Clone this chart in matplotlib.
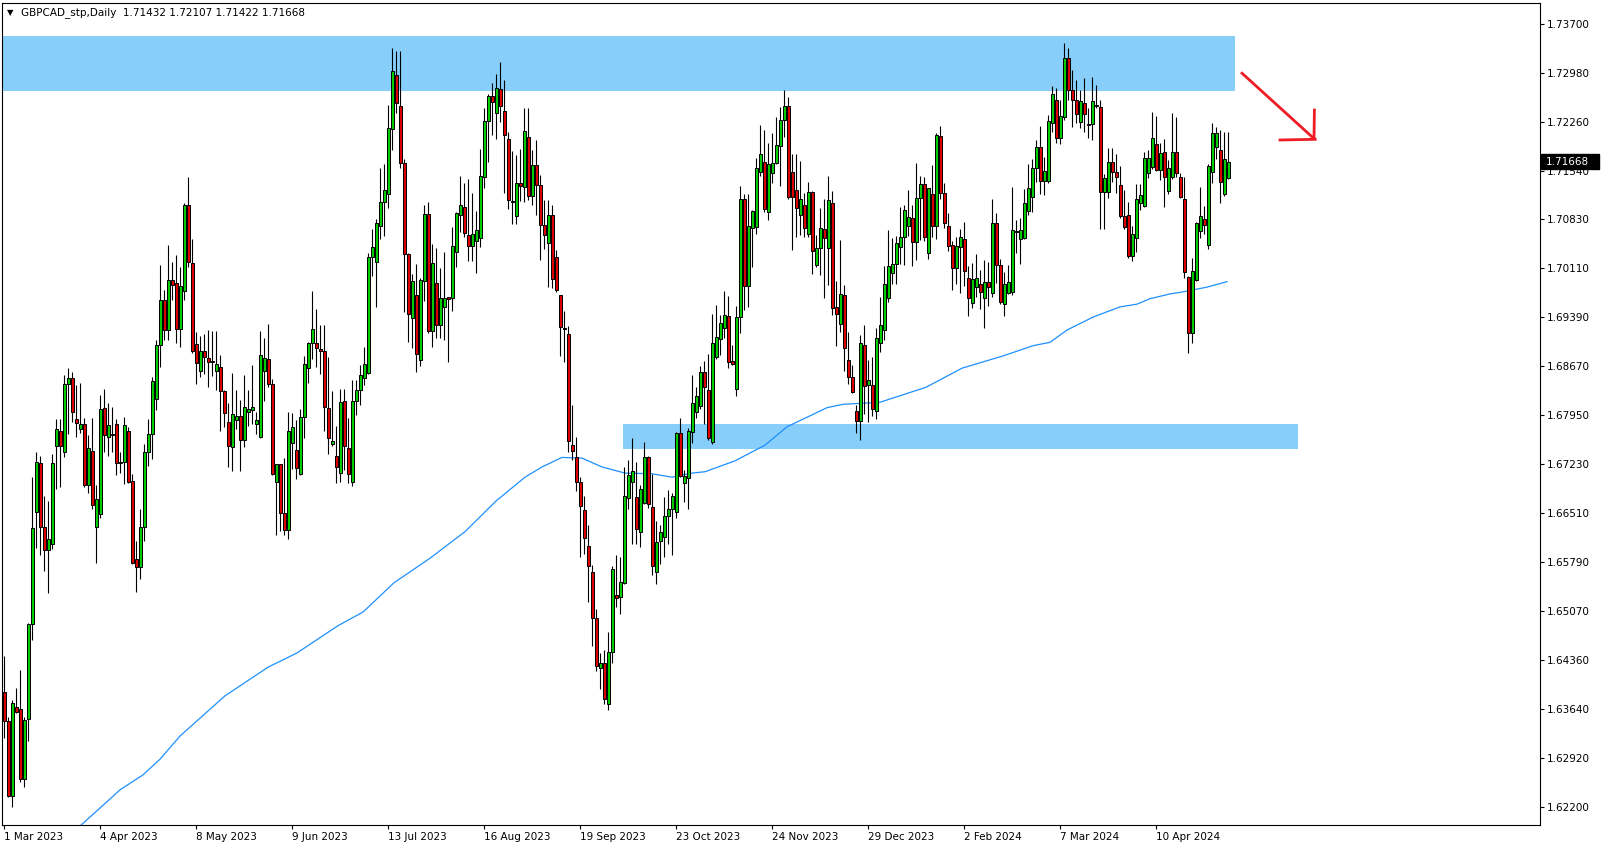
import numpy as np
import matplotlib
matplotlib.use('Agg')
import matplotlib.pyplot as plt
import matplotlib.transforms as mtransforms
from matplotlib.patches import Rectangle

# GBPCAD daily candles, 1 Mar 2023 .. early May 2024
opens = [
    1.6389, 1.6346, 1.6236, 1.6367, 1.6364, 1.6261, 1.6349, 1.6488, 1.6653, 1.6725,
    1.6631, 1.6597, 1.6606, 1.6750, 1.6772, 1.6741, 1.6841, 1.6850, 1.6789, 1.6775,
    1.6782, 1.6693, 1.6742, 1.6631, 1.6650, 1.6806, 1.6763, 1.6767, 1.6782, 1.6727,
    1.6726, 1.6772, 1.6698, 1.6584, 1.6572, 1.6631, 1.6741, 1.6767, 1.6819, 1.6898,
    1.6964, 1.6920, 1.6993, 1.6989, 1.6922, 1.6977, 1.7104, 1.7018, 1.6899, 1.6860,
    1.6889, 1.6879, 1.6874, 1.6860, 1.6866, 1.6831, 1.6785, 1.6748, 1.6788, 1.6794,
    1.6759, 1.6800, 1.6803, 1.6782, 1.6763, 1.6860, 1.6877, 1.6841, 1.6697, 1.6723,
    1.6651, 1.6626, 1.6754, 1.6744, 1.6709, 1.6793, 1.6864, 1.6901, 1.6901, 1.6892,
    1.6889, 1.6806, 1.6753, 1.6735, 1.6710, 1.6816, 1.6747, 1.6697, 1.6816, 1.6832,
    1.6850, 1.6857, 1.7027, 1.7020, 1.7073, 1.7108, 1.7120, 1.7215, 1.7294, 1.7249,
    1.7165, 1.7032, 1.6938, 1.6971, 1.6876, 1.6992, 1.7090, 1.6919, 1.6989, 1.6927,
    1.6954, 1.6968, 1.6967, 1.7035, 1.7089, 1.7101, 1.7059, 1.7043, 1.7051, 1.7055,
    1.7145, 1.7227, 1.7264, 1.7239, 1.7274, 1.7242, 1.7200, 1.7110, 1.7087, 1.7136,
    1.7130, 1.7203, 1.7117, 1.7162, 1.7133, 1.7074, 1.7048, 1.7089, 1.7027, 1.6971,
    1.6923, 1.6914, 1.6751, 1.6734, 1.6697, 1.6656, 1.6603, 1.6565, 1.6497, 1.6424,
    1.6431, 1.6371, 1.6447, 1.6531, 1.6528, 1.6549, 1.6673, 1.6697, 1.6675, 1.6624,
    1.6666, 1.6734, 1.6660, 1.6565, 1.6610, 1.6616, 1.6647, 1.6657, 1.6653, 1.6769,
    1.6696, 1.6703, 1.6770, 1.6800, 1.6809, 1.6858, 1.6832, 1.6756, 1.6880, 1.6907,
    1.6923, 1.6941, 1.6874, 1.6833, 1.6939, 1.7112, 1.6985, 1.7070, 1.7072, 1.7152,
    1.7167, 1.7093, 1.7151, 1.7165, 1.7190, 1.7228, 1.7249, 1.7152, 1.7126, 1.7089,
    1.7104, 1.7061, 1.7123, 1.7015, 1.7041, 1.7068, 1.7041, 1.7107, 1.6954, 1.6929,
    1.6971, 1.6876, 1.6851, 1.6801, 1.6787, 1.6898, 1.6839, 1.6839, 1.6801, 1.6901,
    1.6920, 1.6967, 1.7004, 1.7017, 1.7042, 1.7057, 1.7073, 1.7085, 1.7049, 1.7114,
    1.7134, 1.7033, 1.7120, 1.7073, 1.7205, 1.7121, 1.7073, 1.7045, 1.7011, 1.7042,
    1.7054, 1.6996, 1.6960, 1.6983, 1.6988, 1.6967, 1.6991, 1.6974, 1.7077, 1.7015,
    1.6958, 1.6974, 1.6976, 1.7065, 1.7054, 1.7055, 1.7095, 1.7115, 1.7158, 1.7189,
    1.7139, 1.7139, 1.7224, 1.7258, 1.7202, 1.7233, 1.7319, 1.7272, 1.7258, 1.7225,
    1.7253, 1.7223, 1.7223, 1.7250, 1.7248, 1.7123, 1.7123, 1.7167, 1.7152, 1.7133,
    1.7088, 1.7089, 1.7029, 1.7055, 1.7107, 1.7102, 1.7151, 1.7159, 1.7193, 1.7155,
    1.7181, 1.7124, 1.7145, 1.7181, 1.7145, 1.7112, 1.6998, 1.6916, 1.6993, 1.7066,
    1.7083, 1.7045, 1.7152, 1.7189, 1.7184, 1.7120, 1.71432,
]
highs = [
    1.6442, 1.6352, 1.6377, 1.6395, 1.6421, 1.6352, 1.6490, 1.6704, 1.6741, 1.6735,
    1.6676, 1.6669, 1.6738, 1.6789, 1.6789, 1.6854, 1.6864, 1.6858, 1.6839, 1.6842,
    1.6791, 1.6766, 1.6791, 1.6692, 1.6825, 1.6834, 1.6813, 1.6807, 1.6789, 1.6741,
    1.6793, 1.6778, 1.6709, 1.6610, 1.6658, 1.6753, 1.6789, 1.6851, 1.6905, 1.7016,
    1.6979, 1.7045, 1.7020, 1.7030, 1.7013, 1.7107, 1.7145, 1.7054, 1.6917, 1.6911,
    1.6914, 1.6920, 1.6919, 1.6919, 1.6883, 1.6832, 1.6813, 1.6857, 1.6832, 1.6817,
    1.6854, 1.6832, 1.6869, 1.6800, 1.6919, 1.6908, 1.6929, 1.6848, 1.6724, 1.6724,
    1.6732, 1.6800, 1.6798, 1.6788, 1.6804, 1.6882, 1.6902, 1.6977, 1.6951, 1.6927,
    1.6927, 1.6880, 1.6831, 1.6779, 1.6834, 1.6834, 1.6791, 1.6847, 1.6847, 1.6869,
    1.6895, 1.7033, 1.7068, 1.7083, 1.7158, 1.7164, 1.7250, 1.7334, 1.7330, 1.7330,
    1.7171, 1.7033, 1.7002, 1.7017, 1.6996, 1.7104, 1.7108, 1.7046, 1.7040, 1.7011,
    1.7035, 1.6969, 1.7071, 1.7093, 1.7146, 1.7136, 1.7142, 1.7121, 1.7095, 1.7186,
    1.7246, 1.7267, 1.7283, 1.7296, 1.7314, 1.7287, 1.7211, 1.7183, 1.7177, 1.7186,
    1.7246, 1.7246, 1.7184, 1.7199, 1.7148, 1.7111, 1.7111, 1.7104, 1.7038, 1.6972,
    1.6948, 1.6926, 1.6810, 1.6763, 1.6704, 1.6676, 1.6634, 1.6575, 1.6511, 1.6446,
    1.6450, 1.6477, 1.6574, 1.6590, 1.6587, 1.6719, 1.6729, 1.6762, 1.6726, 1.6692,
    1.6756, 1.6735, 1.6709, 1.6640, 1.6634, 1.6675, 1.6685, 1.6681, 1.6770, 1.6791,
    1.6715, 1.6776, 1.6854, 1.6836, 1.6867, 1.6875, 1.6885, 1.6944, 1.6957, 1.6942,
    1.6977, 1.6970, 1.6898, 1.6955, 1.7131, 1.7120, 1.7120, 1.7096, 1.7173, 1.7221,
    1.7214, 1.7195, 1.7209, 1.7233, 1.7248, 1.7272, 1.7262, 1.7178, 1.7178, 1.7168,
    1.7121, 1.7137, 1.7124, 1.7060, 1.7099, 1.7112, 1.7146, 1.7124, 1.6992, 1.7052,
    1.6986, 1.6917, 1.6869, 1.6810, 1.6913, 1.6927, 1.6876, 1.6880, 1.6923, 1.6969,
    1.7014, 1.7067, 1.7055, 1.7058, 1.7101, 1.7104, 1.7126, 1.7104, 1.7165, 1.7146,
    1.7145, 1.7129, 1.7162, 1.7209, 1.7220, 1.7136, 1.7092, 1.7051, 1.7057, 1.7068,
    1.7079, 1.7014, 1.7019, 1.7032, 1.7008, 1.7023, 1.7020, 1.7112, 1.7092, 1.7024,
    1.7005, 1.7016, 1.7130, 1.7082, 1.7085, 1.7127, 1.7164, 1.7171, 1.7199, 1.7220,
    1.7174, 1.7236, 1.7278, 1.7275, 1.7258, 1.7341, 1.7334, 1.7302, 1.7287, 1.7272,
    1.7290, 1.7246, 1.7291, 1.7280, 1.7258, 1.7149, 1.7187, 1.7187, 1.7178, 1.7161,
    1.7126, 1.7108, 1.7073, 1.7134, 1.7134, 1.7181, 1.7184, 1.7240, 1.7234, 1.7195,
    1.7200, 1.7170, 1.7239, 1.7233, 1.7151, 1.7145, 1.6999, 1.7026, 1.7079, 1.7130,
    1.7102, 1.7164, 1.7224, 1.7218, 1.7214, 1.7210, 1.72107,
]
lows = [
    1.6321, 1.6235, 1.6220, 1.6358, 1.6257, 1.6249, 1.6317, 1.6465, 1.6600, 1.6590,
    1.6566, 1.6534, 1.6599, 1.6687, 1.6690, 1.6734, 1.6767, 1.6785, 1.6763, 1.6769,
    1.6690, 1.6681, 1.6657, 1.6578, 1.6644, 1.6741, 1.6735, 1.6741, 1.6707, 1.6710,
    1.6694, 1.6696, 1.6576, 1.6535, 1.6555, 1.6610, 1.6720, 1.6730, 1.6803, 1.6866,
    1.6905, 1.6905, 1.6964, 1.6901, 1.6895, 1.6964, 1.7013, 1.6887, 1.6841, 1.6851,
    1.6855, 1.6836, 1.6853, 1.6832, 1.6772, 1.6778, 1.6719, 1.6713, 1.6775, 1.6713,
    1.6748, 1.6779, 1.6782, 1.6767, 1.6762, 1.6816, 1.6836, 1.6707, 1.6619, 1.6625,
    1.6619, 1.6613, 1.6716, 1.6701, 1.6707, 1.6762, 1.6842, 1.6878, 1.6866, 1.6855,
    1.6772, 1.6738, 1.6750, 1.6696, 1.6697, 1.6715, 1.6696, 1.6691, 1.6795, 1.6810,
    1.6839, 1.6855, 1.6999, 1.6954, 1.7054, 1.7058, 1.7099, 1.7184, 1.7239, 1.7158,
    1.6947, 1.6902, 1.6894, 1.6858, 1.6867, 1.6963, 1.6916, 1.6895, 1.6908, 1.6908,
    1.6905, 1.6873, 1.6948, 1.7013, 1.7064, 1.7057, 1.7021, 1.7021, 1.7004, 1.7042,
    1.7129, 1.7167, 1.7206, 1.7200, 1.7226, 1.7121, 1.7098, 1.7076, 1.7076, 1.7110,
    1.7108, 1.7111, 1.7104, 1.7089, 1.7023, 1.7039, 1.6983, 1.6982, 1.6976, 1.6882,
    1.6873, 1.6741, 1.6729, 1.6684, 1.6587, 1.6591, 1.6521, 1.6456, 1.6420, 1.6393,
    1.6371, 1.6362, 1.6431, 1.6513, 1.6503, 1.6547, 1.6657, 1.6606, 1.6606, 1.6602,
    1.6665, 1.6659, 1.6560, 1.6547, 1.6577, 1.6587, 1.6606, 1.6590, 1.6644, 1.6704,
    1.6668, 1.6657, 1.6754, 1.6791, 1.6804, 1.6782, 1.6759, 1.6753, 1.6878, 1.6883,
    1.6908, 1.6864, 1.6869, 1.6823, 1.6916, 1.6949, 1.6954, 1.7013, 1.7061, 1.7146,
    1.7093, 1.7082, 1.7136, 1.7164, 1.7131, 1.7203, 1.7112, 1.7038, 1.7057, 1.7060,
    1.7057, 1.7057, 1.7002, 1.7013, 1.7001, 1.6967, 1.6986, 1.6942, 1.6897, 1.6917,
    1.6860, 1.6841, 1.6828, 1.6769, 1.6759, 1.6797, 1.6785, 1.6794, 1.6789, 1.6888,
    1.6905, 1.6961, 1.6988, 1.6988, 1.7017, 1.7016, 1.7058, 1.7014, 1.7023, 1.7052,
    1.7051, 1.7024, 1.7057, 1.7054, 1.7112, 1.7070, 1.7036, 1.6979, 1.6988, 1.6974,
    1.6985, 1.6941, 1.6952, 1.6969, 1.6951, 1.6923, 1.6955, 1.6969, 1.6989, 1.6958,
    1.6941, 1.6973, 1.6971, 1.7033, 1.7017, 1.7054, 1.7089, 1.7093, 1.7137, 1.7120,
    1.7118, 1.7136, 1.7211, 1.7195, 1.7193, 1.7229, 1.7258, 1.7218, 1.7224, 1.7217,
    1.7211, 1.7202, 1.7199, 1.7246, 1.7068, 1.7068, 1.7114, 1.7137, 1.7121, 1.7085,
    1.7068, 1.7026, 1.7021, 1.7035, 1.7096, 1.7100, 1.7143, 1.7157, 1.7153, 1.7140,
    1.7101, 1.7120, 1.7142, 1.7145, 1.7114, 1.6996, 1.6886, 1.6901, 1.6992, 1.7055,
    1.7061, 1.7039, 1.7136, 1.7171, 1.7107, 1.7117, 1.71422,
]
closes = [
    1.6346, 1.6236, 1.6373, 1.6359, 1.6261, 1.6348, 1.6488, 1.6629, 1.6726, 1.6631,
    1.6597, 1.6613, 1.6725, 1.6775, 1.6750, 1.6841, 1.6850, 1.6800, 1.6784, 1.6782,
    1.6693, 1.6747, 1.6663, 1.6672, 1.6804, 1.6766, 1.6781, 1.6766, 1.6725, 1.6725,
    1.6781, 1.6697, 1.6578, 1.6572, 1.6631, 1.6741, 1.6767, 1.6845, 1.6898, 1.6964,
    1.6920, 1.6993, 1.6986, 1.6922, 1.6985, 1.7104, 1.7020, 1.6889, 1.6872, 1.6889,
    1.6880, 1.6873, 1.6873, 1.6870, 1.6831, 1.6798, 1.6750, 1.6797, 1.6794, 1.6759,
    1.6807, 1.6804, 1.6807, 1.6788, 1.6883, 1.6879, 1.6841, 1.6709, 1.6723, 1.6651,
    1.6626, 1.6772, 1.6778, 1.6718, 1.6793, 1.6870, 1.6901, 1.6922, 1.6894, 1.6889,
    1.6807, 1.6762, 1.6757, 1.6719, 1.6814, 1.6750, 1.6709, 1.6816, 1.6832, 1.6854,
    1.6870, 1.7027, 1.7042, 1.7077, 1.7108, 1.7126, 1.7217, 1.7300, 1.7253, 1.7165,
    1.7032, 1.6944, 1.6992, 1.6885, 1.6993, 1.7090, 1.6919, 1.7018, 1.6927, 1.6967,
    1.6967, 1.6966, 1.7043, 1.7092, 1.7104, 1.7062, 1.7043, 1.7061, 1.7067, 1.7146,
    1.7227, 1.7264, 1.7255, 1.7275, 1.7249, 1.7206, 1.7111, 1.7108, 1.7136, 1.7132,
    1.7212, 1.7117, 1.7162, 1.7133, 1.7074, 1.7059, 1.7089, 1.6995, 1.6979, 1.6925,
    1.6921, 1.6757, 1.6742, 1.6697, 1.6662, 1.6615, 1.6574, 1.6497, 1.6427, 1.6431,
    1.6378, 1.6447, 1.6569, 1.6527, 1.6550, 1.6676, 1.6707, 1.6713, 1.6628, 1.6687,
    1.6734, 1.6665, 1.6574, 1.6609, 1.6624, 1.6647, 1.6657, 1.6676, 1.6769, 1.6706,
    1.6706, 1.6772, 1.6813, 1.6823, 1.6858, 1.6836, 1.6762, 1.6901, 1.6910, 1.6930,
    1.6942, 1.6873, 1.6870, 1.6939, 1.7112, 1.6985, 1.7073, 1.7095, 1.7158, 1.7178,
    1.7098, 1.7164, 1.7165, 1.7192, 1.7228, 1.7249, 1.7115, 1.7115, 1.7099, 1.7112,
    1.7070, 1.7123, 1.7036, 1.7041, 1.7070, 1.7055, 1.7111, 1.6952, 1.6944, 1.6973,
    1.6894, 1.6851, 1.6829, 1.6787, 1.6901, 1.6838, 1.6847, 1.6804, 1.6908, 1.6927,
    1.6988, 1.7014, 1.7017, 1.7048, 1.7057, 1.7096, 1.7086, 1.7049, 1.7114, 1.7134,
    1.7057, 1.7128, 1.7073, 1.7206, 1.7121, 1.7077, 1.7043, 1.7011, 1.7043, 1.7057,
    1.7007, 1.6967, 1.6995, 1.6996, 1.6976, 1.6991, 1.6983, 1.7077, 1.7015, 1.6961,
    1.6988, 1.6991, 1.7067, 1.7064, 1.7067, 1.7107, 1.7129, 1.7158, 1.7189, 1.7139,
    1.7153, 1.7227, 1.7266, 1.7202, 1.7234, 1.7319, 1.7272, 1.7258, 1.7237, 1.7256,
    1.7237, 1.7221, 1.7256, 1.7249, 1.7123, 1.7143, 1.7167, 1.7152, 1.7145, 1.7088,
    1.7071, 1.7029, 1.7061, 1.7112, 1.7118, 1.7173, 1.7173, 1.7202, 1.7155, 1.7180,
    1.7145, 1.7158, 1.7181, 1.7151, 1.7115, 1.7005, 1.6916, 1.7007, 1.7077, 1.7088,
    1.7074, 1.7161, 1.7209, 1.7209, 1.7138, 1.7171, 1.71668,
]

# moving average (blue line), read at bar positions
ma_bar = [19.2, 23.75, 29, 34.75, 39, 44, 55.25, 66, 73.25, 83.5, 89.75, 97.5, 106.5,
          115.25, 123, 130.25, 134.5, 139.5, 144.5, 149.5, 155.25, 162, 167, 172,
          175.25, 182.75, 190.25, 195.75, 200.75, 205.75, 209.75, 219, 230.5, 239.5,
          249.75, 257.25, 261.5, 265.75, 272.25, 279, 283.25, 286.5, 291.5, 294.75,
          300.75, 305.75]
ma_val = [1.6193, 1.6217, 1.6245, 1.6267, 1.6290, 1.6324, 1.6383, 1.6425, 1.6446, 1.6486,
          1.6506, 1.6549, 1.6585, 1.6624, 1.6669, 1.6704, 1.6719, 1.6733, 1.6732, 1.6719,
          1.6710, 1.6709, 1.6704, 1.6710, 1.6712, 1.6728, 1.6751, 1.6778, 1.6792, 1.6806,
          1.6811, 1.6814, 1.6836, 1.6864, 1.6882, 1.6897, 1.6902, 1.6920, 1.6939, 1.6954,
          1.6958, 1.6966, 1.6973, 1.6976, 1.6983, 1.6991]

date_labels = ['1 Mar 2023', '4 Apr 2023', '8 May 2023', '9 Jun 2023', '13 Jul 2023',
               '16 Aug 2023', '19 Sep 2023', '23 Oct 2023', '24 Nov 2023', '29 Dec 2023',
               '2 Feb 2024', '7 Mar 2024', '10 Apr 2024']
price_ticks = [1.73700, 1.72980, 1.72260, 1.71540, 1.70830, 1.70110, 1.69390, 1.68670,
               1.67950, 1.67230, 1.66510, 1.65790, 1.65070, 1.64360, 1.63640, 1.62920,
               1.62200]

# supply / demand zones (price bands)
zone_top = (1.7271, 1.7352)
zone_bottom = (1.67449, 1.67821)

o = np.array(opens)
h = np.array(highs)
l = np.array(lows)
c = np.array(closes)
x = np.arange(len(c))
up = c >= o

fig = plt.figure(figsize=(16.04, 8.5), dpi=100)
ax = fig.add_axes([2 / 1604, 25 / 850, 1538 / 1604, 822 / 850])

ax.add_patch(Rectangle((-0.5, zone_top[0]), 308.25, zone_top[1] - zone_top[0],
                       facecolor='#87cefa', edgecolor='none', zorder=1))
ax.add_patch(Rectangle((154.7, zone_bottom[0]), 168.8, zone_bottom[1] - zone_bottom[0],
                       facecolor='#87cefa', edgecolor='none', zorder=1))

ax.plot(ma_bar, ma_val, color='#1e90ff', linewidth=0.9, zorder=2)

ax.vlines(x, l, h, color='black', linewidth=0.8, zorder=3)
ax.bar(x[up], (c - o)[up], bottom=o[up], width=0.75, color='#00cc00',
       edgecolor='black', linewidth=0.7, zorder=4)
ax.bar(x[~up], (o - c)[~up], bottom=c[~up], width=0.75, color='#dd0000',
       edgecolor='black', linewidth=0.7, zorder=4)

# hand-drawn red arrow
red = '#ee1c24'
ax.plot([309.5, 327.5], [1.7297, 1.7201], color=red, linewidth=2, zorder=6)
ax.plot([319, 327.8], [1.7199, 1.7200], color=red, linewidth=2, zorder=6)
ax.plot([327.5, 327.6], [1.7201, 1.7243], color=red, linewidth=2, zorder=6)

ax.set_xlim(-0.5, 384)
ax.set_ylim(1.61934, 1.74001)

ax.set_xticks(np.arange(len(date_labels)) * 24)
ax.set_xticklabels(date_labels, ha='left')
ax.yaxis.tick_right()
ax.set_yticks(price_ticks)
ax.set_yticklabels(['%.5f' % p for p in price_ticks])
ax.tick_params(axis='both', direction='out', length=3, width=0.8, labelsize=7.5,
               colors='black', pad=2)
for s in ax.spines.values():
    s.set_linewidth(0.8)

# last price marker on the right axis
last = closes[-1]
trans = mtransforms.blended_transform_factory(ax.transAxes, ax.transData)
ax.add_patch(Rectangle((1.0007, last - 0.0011), 0.0375, 0.0022, transform=trans,
                       facecolor='black', edgecolor='black', clip_on=False, zorder=10))
ax.text(1.0035, last, '%.5f' % last, transform=trans, color='white', fontsize=7.5,
        ha='left', va='center', clip_on=False, zorder=11)

fig.text(7 / 1604, 1 - 13 / 850, '\u25bc', fontsize=6, va='center', ha='left')
fig.text(21 / 1604, 1 - 13 / 850,
         'GBPCAD_stp,Daily  %.5f %.5f %.5f %.5f' % (opens[-1], highs[-1], lows[-1], closes[-1]),
         fontsize=7.5, va='center', ha='left')

fig.savefig('out.png', dpi=100)
